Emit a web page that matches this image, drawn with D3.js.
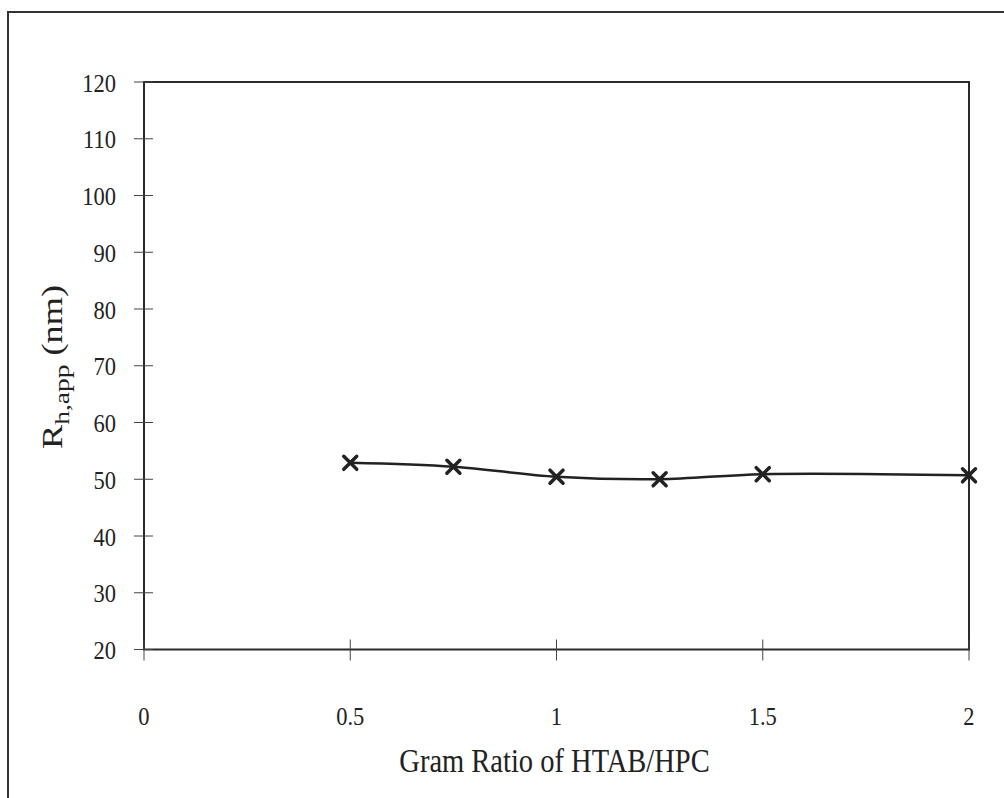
<!DOCTYPE html>
<html>
<head>
<meta charset="utf-8">
<script src="https://cdn.jsdelivr.net/npm/d3@7"></script>
<style>
  body { margin: 0; background: #fff; }
  text { font-family: "Liberation Serif", "DejaVu Serif", serif; fill: #222; }
</style>
</head>
<body>
<svg id="chart" width="1004" height="798"></svg>
<script>
// data
const ratios = [0.5, 0.75, 1, 1.25, 1.5, 2];
const radius = [52.9, 52.2, 50.45, 50.0, 50.9, 50.7];
const xTicks = [0, 0.5, 1, 1.5, 2];
const yTicks = [20, 30, 40, 50, 60, 70, 80, 90, 100, 110, 120];

const svg = d3.select("#chart");
const plotL = 144, plotR = 969, plotT = 82, plotB = 649.5;
const stretch = 1.16; // the scanned text is a bit taller than wide

const x = d3.scaleLinear().domain([0, 2]).range([plotL, plotR]);
const y = d3.scaleLinear().domain([20, 120]).range([plotB, plotT]);

// outer frame
svg.append("path")
    .attr("d", "M8,798 L8,12 L1010,12")
    .attr("fill", "none")
    .attr("stroke", "#333")
    .attr("stroke-width", 2);

// plot frame
svg.append("rect")
    .attr("x", plotL)
    .attr("y", plotT)
    .attr("width", plotR - plotL)
    .attr("height", plotB - plotT)
    .attr("fill", "none")
    .attr("stroke", "#2a2a2a")
    .attr("stroke-width", 2);

// y ticks (cross the axis)
svg.append("g").selectAll("line")
    .data(yTicks)
    .join("line")
    .attr("x1", plotL - 10)
    .attr("x2", plotL + 9)
    .attr("y1", d => y(d))
    .attr("y2", d => y(d))
    .attr("stroke", "#444")
    .attr("stroke-width", 1);

svg.append("g").selectAll("text")
    .data(yTicks)
    .join("text")
    .attr("transform", d => `translate(116,${y(d) + 9.5}) scale(1,${stretch})`)
    .attr("text-anchor", "end")
    .style("font-size", "22.5px")
    .text(d => d);

// x ticks
svg.append("g").selectAll("line")
    .data(xTicks)
    .join("line")
    .attr("x1", d => x(d))
    .attr("x2", d => x(d))
    .attr("y1", plotB - 10)
    .attr("y2", plotB + 11)
    .attr("stroke", "#444")
    .attr("stroke-width", 1);

svg.append("g").selectAll("text")
    .data(xTicks)
    .join("text")
    .attr("transform", d => `translate(${x(d)},725) scale(1,${stretch})`)
    .attr("text-anchor", "middle")
    .style("font-size", "22.5px")
    .text(d => d);

// axis titles
svg.append("text")
    .attr("transform", `translate(${(plotL + plotR) / 2 - 2},772) scale(1,${stretch})`)
    .attr("text-anchor", "middle")
    .style("font-size", "28.5px")
    .text("Gram Ratio of HTAB/HPC");

const yTitle = svg.append("text")
    .attr("transform", `translate(62,367) rotate(-90) scale(1.25,1)`)
    .attr("text-anchor", "middle")
    .style("font-size", "29px");
yTitle.append("tspan").text("R");
yTitle.append("tspan").attr("dy", "7").style("font-size", "22px").text("h,app");
yTitle.append("tspan").attr("dy", "-7").text(" (nm)");

// smoothed line
const pts = ratios.map((r, i) => [r, radius[i]]);
const line = d3.line()
    .x(d => x(d[0]))
    .y(d => y(d[1]))
    .curve(d3.curveCatmullRom.alpha(0.5));

svg.append("path")
    .datum(pts)
    .attr("d", line)
    .attr("fill", "none")
    .attr("stroke", "#222")
    .attr("stroke-width", 2.5);

// x markers
const s = 6.5;
svg.append("g").selectAll("path")
    .data(pts)
    .join("path")
    .attr("transform", d => `translate(${x(d[0])},${y(d[1])})`)
    .attr("d", `M${-s},${-s}L${s},${s}M${-s},${s}L${s},${-s}`)
    .attr("stroke", "#222")
    .attr("stroke-width", 3.5)
    .attr("stroke-linecap", "round");
</script>
</body>
</html>
